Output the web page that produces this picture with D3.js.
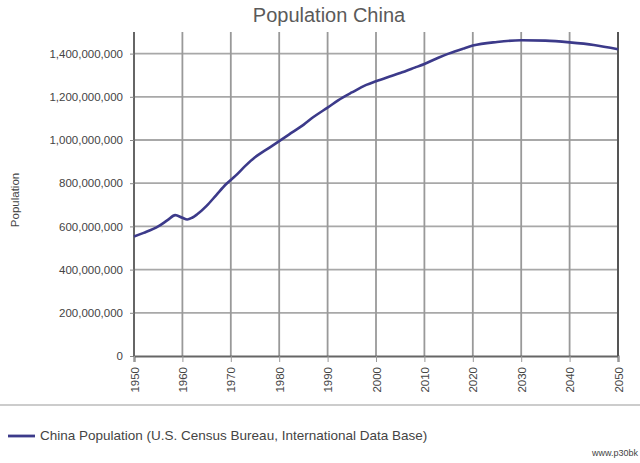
<!DOCTYPE html>
<html>
<head>
<meta charset="utf-8">
<script src="https://cdn.jsdelivr.net/npm/d3@7"></script>
<style>
  body { margin: 0; background: #fff; }
  svg { display: block; font-family: "Liberation Sans", Arial, sans-serif; }
</style>
</head>
<body>
<script>
// values (millions)
var years = [1950, 1952, 1955, 1957, 1958.5, 1960, 1961, 1962, 1963, 1965, 1967, 1969, 1971, 1973, 1975, 1978, 1980,
             1982, 1985, 1987, 1990, 1993, 1995, 1998, 2000, 2003, 2005, 2008, 2010, 2013, 2015, 2018, 2020,
             2025, 2030, 2035, 2040, 2045, 2050];
var population = [553, 570, 600, 630, 652, 640, 632, 640, 655, 695, 745, 795, 835, 880, 920, 965, 995,
                  1025, 1070, 1105, 1150, 1195, 1220, 1255, 1272, 1295, 1310, 1335, 1352, 1382, 1400, 1423, 1437,
                  1454, 1462, 1460, 1452, 1440, 1420];
var xTicks = [1950, 1960, 1970, 1980, 1990, 2000, 2010, 2020, 2030, 2040, 2050];
var yTicks = [0, 200, 400, 600, 800, 1000, 1200, 1400];

var width = 640, height = 463;
var margin = { left: 134, right: 22, top: 32, bottom: 107 };
var font = '"Liberation Sans", Arial, sans-serif';

var svg = d3.select('body').append('svg')
    .attr('width', width)
    .attr('height', height);

var x = d3.scaleLinear().domain([1950, 2050]).range([margin.left, width - margin.right]);
var y = d3.scaleLinear().domain([0, 1500]).range([height - margin.bottom, margin.top]);

// title
svg.append('text')
    .attr('x', 329).attr('y', 22)
    .attr('text-anchor', 'middle')
    .attr('font-size', 20)
    .attr('fill', '#5a5a5a')
    .text('Population China');

// grid
svg.append('g').selectAll('line')
    .data(yTicks.slice(1))
    .enter().append('line')
    .attr('x1', x(1950)).attr('x2', x(2050))
    .attr('y1', function(d) { return y(d); })
    .attr('y2', function(d) { return y(d); })
    .attr('stroke', '#a8a8a8')
    .attr('stroke-width', 1.8);

svg.append('g').selectAll('line')
    .data(xTicks.slice(1, -1))
    .enter().append('line')
    .attr('x1', function(d) { return x(d); })
    .attr('x2', function(d) { return x(d); })
    .attr('y1', margin.top).attr('y2', y(0))
    .attr('stroke', '#999')
    .attr('stroke-width', 1.8);

// axes
var yAxis = d3.axisLeft(y)
    .tickValues(yTicks)
    .tickSize(4)
    .tickPadding(7)
    .tickFormat(function(d) { return d3.format(',')(d * 1e6); });

var yg = svg.append('g')
    .attr('transform', 'translate(' + margin.left + ',0)')
    .call(yAxis);
yg.select('.domain').attr('stroke', '#666').attr('stroke-width', 2)
    .attr('d', 'M0,' + margin.top + 'V' + y(0));
yg.selectAll('.tick line').attr('stroke', '#888');
yg.selectAll('.tick text').attr('font-size', 11.5).attr('fill', '#444')
    .attr('font-family', font);

var xAxis = d3.axisBottom(x)
    .tickValues(xTicks)
    .tickSize(6)
    .tickFormat(d3.format('d'));

var xg = svg.append('g')
    .attr('transform', 'translate(0,' + y(0) + ')')
    .call(xAxis);
xg.select('.domain').attr('stroke', '#666').attr('stroke-width', 2);
xg.selectAll('.tick line').attr('stroke', '#999');
xg.selectAll('.tick text')
    .attr('font-size', 11.5).attr('fill', '#444')
    .attr('font-family', font)
    .attr('transform', 'rotate(-90)')
    .attr('text-anchor', 'end')
    .attr('x', -11).attr('y', 0)
    .attr('dy', '0.35em');

// right border
svg.append('line')
    .attr('x1', x(2050)).attr('x2', x(2050))
    .attr('y1', margin.top).attr('y2', y(0))
    .attr('stroke', '#555')
    .attr('stroke-width', 2);

// y title
svg.append('text')
    .attr('transform', 'translate(19,200) rotate(-90)')
    .attr('text-anchor', 'middle')
    .attr('font-size', 11.5)
    .attr('fill', '#444')
    .text('Population');

// series
var line = d3.line()
    .x(function(d, i) { return x(years[i]); })
    .y(function(d) { return y(d); })
    .curve(d3.curveMonotoneX);

svg.append('path')
    .datum(population)
    .attr('fill', 'none')
    .attr('stroke', '#3c3a8a')
    .attr('stroke-width', 2.6)
    .attr('d', line);

// separator + legend
svg.append('line')
    .attr('x1', 0).attr('x2', width)
    .attr('y1', 405).attr('y2', 405)
    .attr('stroke', '#ccc')
    .attr('stroke-width', 2);

svg.append('line')
    .attr('x1', 8).attr('x2', 35)
    .attr('y1', 436).attr('y2', 436)
    .attr('stroke', '#3c3a8a')
    .attr('stroke-width', 2.8);

svg.append('text')
    .attr('x', 40).attr('y', 440)
    .attr('font-size', 13.5)
    .attr('fill', '#444')
    .text('China Population (U.S. Census Bureau, International Data Base)');

svg.append('text')
    .attr('x', 638).attr('y', 456)
    .attr('text-anchor', 'end')
    .attr('font-size', 9)
    .attr('fill', '#444')
    .text('www.p30bk');
</script>
</body>
</html>
